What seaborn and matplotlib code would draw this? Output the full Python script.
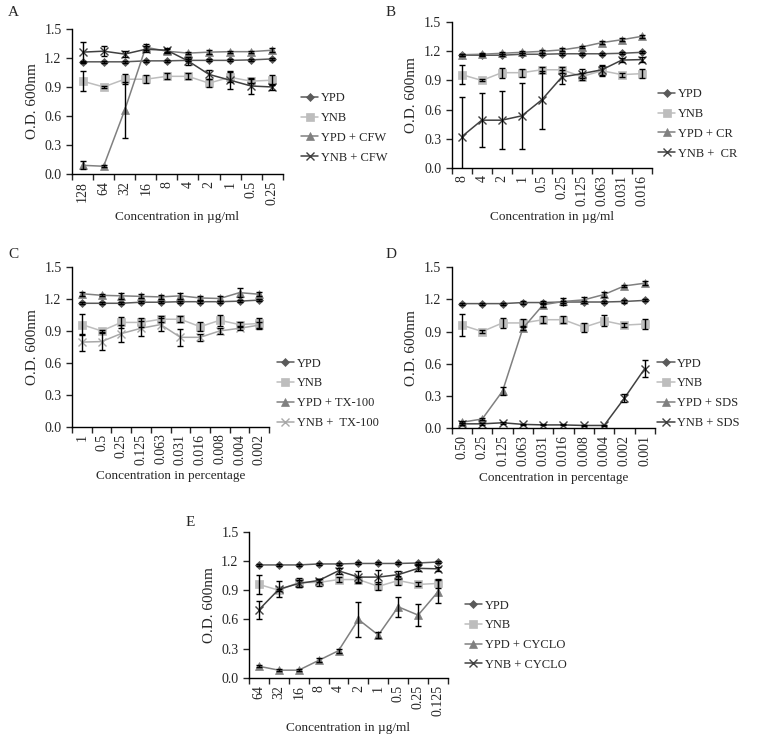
import matplotlib
matplotlib.use("Agg")
import matplotlib.pyplot as plt
import seaborn as sns
import numpy as np
import pandas as pd

# ---- data ----
conc_a = ["128", "64", "32", "16", "8", "4", "2", "1", "0.5", "0.25"]
conc_b = ["8", "4", "2", "1", "0.5", "0.25", "0.125", "0.063", "0.031", "0.016"]
conc_c = ["1", "0.5", "0.25", "0.125", "0.063", "0.031", "0.016", "0.008", "0.004", "0.002"]
conc_d = ["0.50", "0.25", "0.125", "0.063", "0.031", "0.016", "0.008", "0.004", "0.002", "0.001"]
conc_e = ["64", "32", "16", "8", "4", "2", "1", "0.5", "0.25", "0.125"]

ypd = [1.16, 1.16, 1.16, 1.17, 1.17, 1.175, 1.175, 1.175, 1.18, 1.19]
ypd_err = [0.01, 0.01, 0.01, 0.01, 0.01, 0.01, 0.01, 0.01, 0.01, 0.01]
ynb = [0.96, 0.90, 0.98, 0.98, 1.01, 1.01, 0.94, 1.00, 0.96, 0.97]
ynb_err = [0.10, 0.01, 0.05, 0.04, 0.03, 0.03, 0.04, 0.05, 0.02, 0.05]

ypd_cfw = [0.09, 0.08, 0.66, 1.31, 1.27, 1.25, 1.26, 1.265, 1.265, 1.28]
ypd_cfw_err = [0.04, 0.01, 0.29, 0.03, 0.02, 0.01, 0.02, 0.01, 0.01, 0.02]
ynb_cfw = [1.26, 1.27, 1.24, 1.29, 1.28, 1.17, 1.03, 0.97, 0.91, 0.90]
ynb_cfw_err = [0.10, 0.05, 0.03, 0.03, 0.02, 0.04, 0.05, 0.09, 0.08, 0.03]

ypd_cr = [1.165, 1.17, 1.18, 1.19, 1.20, 1.215, 1.245, 1.29, 1.32, 1.355]
ypd_cr_err = [0.01, 0.01, 0.01, 0.01, 0.015, 0.015, 0.015, 0.015, 0.015, 0.015]
ynb_cr = [0.32, 0.49, 0.49, 0.535, 0.70, 0.935, 0.97, 1.01, 1.11, 1.115]
ynb_cr_err = [0.41, 0.28, 0.30, 0.34, 0.30, 0.07, 0.05, 0.05, 0.02, 0.03]

ypd_tx = [1.25, 1.235, 1.23, 1.225, 1.22, 1.23, 1.21, 1.205, 1.26, 1.245]
ypd_tx_err = [0.02, 0.01, 0.03, 0.02, 0.02, 0.03, 0.02, 0.02, 0.04, 0.02]
ynb_tx = [0.795, 0.80, 0.875, 0.925, 0.96, 0.84, 0.84, 0.90, 0.925, 0.955]
ynb_tx_err = [0.08, 0.08, 0.08, 0.07, 0.06, 0.08, 0.03, 0.03, 0.02, 0.03]

ypd_sds = [0.055, 0.085, 0.345, 0.93, 1.15, 1.18, 1.195, 1.245, 1.325, 1.35]
ypd_sds_err = [0.01, 0.01, 0.04, 0.02, 0.02, 0.03, 0.03, 0.02, 0.01, 0.02]
ynb_sds = [0.04, 0.04, 0.05, 0.035, 0.03, 0.03, 0.025, 0.025, 0.28, 0.555]
ynb_sds_err = [0.01, 0.01, 0.01, 0.005, 0.005, 0.005, 0.005, 0.005, 0.04, 0.08]

ypd_cyclo = [0.12, 0.08, 0.08, 0.18, 0.28, 0.60, 0.44, 0.73, 0.645, 0.885]
ypd_cyclo_err = [0.01, 0.01, 0.01, 0.02, 0.02, 0.18, 0.03, 0.10, 0.11, 0.12]
ynb_cyclo = [0.70, 0.91, 0.97, 1.00, 1.10, 1.035, 1.035, 1.06, 1.125, 1.12]
ynb_cyclo_err = [0.09, 0.08, 0.04, 0.02, 0.03, 0.06, 0.07, 0.04, 0.03, 0.02]

sns.set_style("ticks")
plt.rcParams['font.family'] = ['Liberation Serif', 'DejaVu Serif']
plt.rcParams['font.size'] = 10

C_YPD = "#5a5a5a"
C_YNB = "#bdbdbd"
C_YPDX = "#808080"
C_YNBX = "#404040"


def draw_panel(fig, rect, letter, letter_xy, ticks, xlabel, series, leg_xy):
    ax = fig.add_axes(rect)
    pos = np.arange(len(ticks))
    for name, vals, err, color, marker in series:
        df = pd.DataFrame({"x": pos, "y": vals})
        msize = {"D": 4.5, "s": 5.5, "^": 5.5, "x": 6}[marker]
        sns.lineplot(data=df, x="x", y="y", ax=ax, color=color, marker=marker,
                     markersize=msize, linewidth=1.1,
                     markeredgecolor=color, markeredgewidth=1 if marker == "x" else 0.5,
                     label=name)
        ax.errorbar(pos, vals, yerr=err, fmt="none", ecolor="black",
                    elinewidth=1, capsize=2.5, capthick=1, zorder=5)
    ax.set_xlim(-0.5, len(ticks) - 0.5)
    ax.set_ylim(0, 1.5)
    ax.set_yticks([0, 0.3, 0.6, 0.9, 1.2, 1.5])
    ax.set_yticklabels(["0.0", "0.3", "0.6", "0.9", "1.2", "1.5"])
    ax.set_xticks(pos)
    ax.set_xticklabels(ticks, rotation=90)
    ax.set_xticks(np.arange(-0.5, len(ticks)), minor=True)
    ax.tick_params(axis="x", which="major", length=0, pad=5)
    ax.tick_params(axis="x", which="minor", length=4, direction="out", width=1)
    ax.tick_params(axis="y", length=4, width=1, direction="out")
    ax.set_xlabel(xlabel, fontsize=9.5)
    ax.set_ylabel("O.D. 600nm", fontsize=11)
    for s in ["top", "right"]:
        ax.spines[s].set_visible(False)
    for s in ["left", "bottom"]:
        ax.spines[s].set_color("black")
        ax.spines[s].set_linewidth(1)
    h, l = ax.get_legend_handles_labels()
    ax.get_legend().remove()
    fig.legend(h, l, loc="center left", bbox_to_anchor=leg_xy, frameon=False,
               fontsize=9, handlelength=1.4, handletextpad=0.2, labelspacing=0.62,
               borderpad=0, borderaxespad=0)
    fig.text(letter_xy[0] / 758, 1 - letter_xy[1] / 742, letter, fontsize=11,
             va="center", ha="left")
    return ax


fig = plt.figure(figsize=(7.58, 7.42), dpi=100)

draw_panel(fig, [0.095, 0.7655, 0.278, 0.1955], "A", (8, 12), conc_a, "Concentration in µg/ml",
           [("YPD", ypd, ypd_err, C_YPD, "D"),
            ("YNB", ynb, ynb_err, C_YNB, "s"),
            ("YPD + CFW", ypd_cfw, ypd_cfw_err, C_YPDX, "^"),
            ("YNB + CFW", ynb_cfw, ynb_cfw_err, C_YNBX, "x")],
           (0.397, 0.8275))

draw_panel(fig, [0.596, 0.774, 0.264, 0.196], "B", (386, 12), conc_b, "Concentration in µg/ml",
           [("YPD", ypd, ypd_err, C_YPD, "D"),
            ("YNB", ynb, ynb_err, C_YNB, "s"),
            ("YPD + CR", ypd_cr, ypd_cr_err, C_YPDX, "^"),
            ("YNB +  CR", ynb_cr, ynb_cr_err, C_YNBX, "x")],
           (0.868, 0.833))

draw_panel(fig, [0.095, 0.425, 0.26, 0.215], "C", (8, 255), conc_c, "Concentration in percentage",
           [("YPD", ypd, ypd_err, C_YPD, "D"),
            ("YNB", ynb, ynb_err, C_YNB, "s"),
            ("YPD + TX-100", ypd_tx, ypd_tx_err, C_YPDX, "^"),
            ("YNB +  TX-100", ynb_tx, ynb_tx_err, "#a8a8a8", "x")],
           (0.365, 0.470))

draw_panel(fig, [0.596, 0.423, 0.268, 0.217], "D", (386, 255), conc_d, "Concentration in percentage",
           [("YPD", ypd, ypd_err, C_YPD, "D"),
            ("YNB", ynb, ynb_err, C_YNB, "s"),
            ("YPD + SDS", ypd_sds, ypd_sds_err, C_YPDX, "^"),
            ("YNB + SDS", ynb_sds, ynb_sds_err, C_YNBX, "x")],
           (0.867, 0.470))

draw_panel(fig, [0.3285, 0.0863, 0.2625, 0.197], "E", (186, 523), conc_e, "Concentration in µg/ml",
           [("YPD", ypd, ypd_err, C_YPD, "D"),
            ("YNB", ynb, ynb_err, C_YNB, "s"),
            ("YPD + CYCLO", ypd_cyclo, ypd_cyclo_err, C_YPDX, "^"),
            ("YNB + CYCLO", ynb_cyclo, ynb_cyclo_err, C_YNBX, "x")],
           (0.613, 0.144))

fig.savefig("out.png", dpi=100)
